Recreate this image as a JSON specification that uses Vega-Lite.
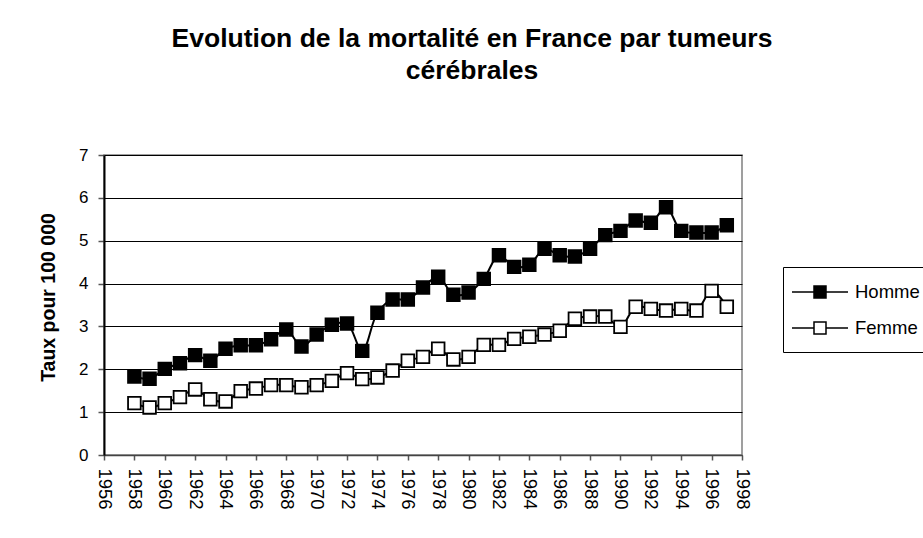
{
  "$schema": "https://vega.github.io/schema/vega-lite/v6.json",
  "description": "Evolution de la mortalité en France par tumeurs cérébrales",
  "autosize": {"type": "none"},
  "padding": {"left": 104, "top": 155, "right": 181, "bottom": 83},
  "width": 638,
  "height": 300,
  "background": "white",
  "title": {
    "text": ["Evolution de la mortalité en France par tumeurs", "cérébrales"],
    "font": "Liberation Sans",
    "fontSize": 26.5,
    "fontWeight": "bold",
    "color": "black",
    "lineHeight": 32,
    "anchor": "middle",
    "frame": "group",
    "dx": 49,
    "offset": 62
  },
  "config": {
    "font": "Liberation Sans",
    "view": {"stroke": "#808080", "strokeWidth": 1.5},
    "axis": {
      "labelFont": "Liberation Sans",
      "labelFontSize": 17,
      "labelColor": "black",
      "titleFont": "Liberation Sans",
      "titleColor": "black",
      "tickColor": "#555555",
      "domainColor": "black"
    }
  },
  "data": {
    "values": [
      {"annee": 1958, "sexe": "Homme", "taux": 1.83},
      {"annee": 1959, "sexe": "Homme", "taux": 1.78},
      {"annee": 1960, "sexe": "Homme", "taux": 2.01},
      {"annee": 1961, "sexe": "Homme", "taux": 2.14},
      {"annee": 1962, "sexe": "Homme", "taux": 2.33},
      {"annee": 1963, "sexe": "Homme", "taux": 2.20},
      {"annee": 1964, "sexe": "Homme", "taux": 2.48},
      {"annee": 1965, "sexe": "Homme", "taux": 2.56},
      {"annee": 1966, "sexe": "Homme", "taux": 2.56},
      {"annee": 1967, "sexe": "Homme", "taux": 2.70},
      {"annee": 1968, "sexe": "Homme", "taux": 2.93},
      {"annee": 1969, "sexe": "Homme", "taux": 2.53},
      {"annee": 1970, "sexe": "Homme", "taux": 2.81},
      {"annee": 1971, "sexe": "Homme", "taux": 3.04},
      {"annee": 1972, "sexe": "Homme", "taux": 3.07},
      {"annee": 1973, "sexe": "Homme", "taux": 2.43},
      {"annee": 1974, "sexe": "Homme", "taux": 3.32},
      {"annee": 1975, "sexe": "Homme", "taux": 3.63},
      {"annee": 1976, "sexe": "Homme", "taux": 3.63},
      {"annee": 1977, "sexe": "Homme", "taux": 3.91},
      {"annee": 1978, "sexe": "Homme", "taux": 4.16},
      {"annee": 1979, "sexe": "Homme", "taux": 3.74},
      {"annee": 1980, "sexe": "Homme", "taux": 3.79},
      {"annee": 1981, "sexe": "Homme", "taux": 4.11},
      {"annee": 1982, "sexe": "Homme", "taux": 4.66},
      {"annee": 1983, "sexe": "Homme", "taux": 4.39},
      {"annee": 1984, "sexe": "Homme", "taux": 4.44},
      {"annee": 1985, "sexe": "Homme", "taux": 4.81},
      {"annee": 1986, "sexe": "Homme", "taux": 4.66},
      {"annee": 1987, "sexe": "Homme", "taux": 4.63},
      {"annee": 1988, "sexe": "Homme", "taux": 4.81},
      {"annee": 1989, "sexe": "Homme", "taux": 5.13},
      {"annee": 1990, "sexe": "Homme", "taux": 5.23},
      {"annee": 1991, "sexe": "Homme", "taux": 5.47},
      {"annee": 1992, "sexe": "Homme", "taux": 5.42},
      {"annee": 1993, "sexe": "Homme", "taux": 5.78},
      {"annee": 1994, "sexe": "Homme", "taux": 5.23},
      {"annee": 1995, "sexe": "Homme", "taux": 5.19},
      {"annee": 1996, "sexe": "Homme", "taux": 5.19},
      {"annee": 1997, "sexe": "Homme", "taux": 5.36},
      {"annee": 1958, "sexe": "Femme", "taux": 1.21},
      {"annee": 1959, "sexe": "Femme", "taux": 1.11},
      {"annee": 1960, "sexe": "Femme", "taux": 1.21},
      {"annee": 1961, "sexe": "Femme", "taux": 1.35},
      {"annee": 1962, "sexe": "Femme", "taux": 1.53},
      {"annee": 1963, "sexe": "Femme", "taux": 1.30},
      {"annee": 1964, "sexe": "Femme", "taux": 1.25},
      {"annee": 1965, "sexe": "Femme", "taux": 1.49},
      {"annee": 1966, "sexe": "Femme", "taux": 1.55},
      {"annee": 1967, "sexe": "Femme", "taux": 1.63},
      {"annee": 1968, "sexe": "Femme", "taux": 1.63},
      {"annee": 1969, "sexe": "Femme", "taux": 1.58},
      {"annee": 1970, "sexe": "Femme", "taux": 1.63},
      {"annee": 1971, "sexe": "Femme", "taux": 1.73},
      {"annee": 1972, "sexe": "Femme", "taux": 1.91},
      {"annee": 1973, "sexe": "Femme", "taux": 1.77},
      {"annee": 1974, "sexe": "Femme", "taux": 1.81},
      {"annee": 1975, "sexe": "Femme", "taux": 1.97},
      {"annee": 1976, "sexe": "Femme", "taux": 2.20},
      {"annee": 1977, "sexe": "Femme", "taux": 2.29},
      {"annee": 1978, "sexe": "Femme", "taux": 2.48},
      {"annee": 1979, "sexe": "Femme", "taux": 2.23},
      {"annee": 1980, "sexe": "Femme", "taux": 2.29},
      {"annee": 1981, "sexe": "Femme", "taux": 2.57},
      {"annee": 1982, "sexe": "Femme", "taux": 2.57},
      {"annee": 1983, "sexe": "Femme", "taux": 2.71},
      {"annee": 1984, "sexe": "Femme", "taux": 2.76},
      {"annee": 1985, "sexe": "Femme", "taux": 2.81},
      {"annee": 1986, "sexe": "Femme", "taux": 2.90},
      {"annee": 1987, "sexe": "Femme", "taux": 3.18},
      {"annee": 1988, "sexe": "Femme", "taux": 3.23},
      {"annee": 1989, "sexe": "Femme", "taux": 3.23},
      {"annee": 1990, "sexe": "Femme", "taux": 2.99},
      {"annee": 1991, "sexe": "Femme", "taux": 3.46},
      {"annee": 1992, "sexe": "Femme", "taux": 3.41},
      {"annee": 1993, "sexe": "Femme", "taux": 3.37},
      {"annee": 1994, "sexe": "Femme", "taux": 3.41},
      {"annee": 1995, "sexe": "Femme", "taux": 3.37},
      {"annee": 1996, "sexe": "Femme", "taux": 3.83},
      {"annee": 1997, "sexe": "Femme", "taux": 3.46}
    ]
  },
  "encoding": {
    "x": {
      "field": "annee",
      "type": "quantitative",
      "scale": {"domain": [1956, 1998], "nice": false, "zero": false},
      "axis": {
        "title": null,
        "values": [1956, 1958, 1960, 1962, 1964, 1966, 1968, 1970, 1972, 1974, 1976, 1978, 1980, 1982, 1984, 1986, 1988, 1990, 1992, 1994, 1996, 1998],
        "format": "d",
        "labelAngle": 90,
        "labelAlign": "left",
        "labelBaseline": "middle",
        "labelFontSize": 18.5,
        "labelPadding": 8,
        "tickSize": 5,
        "tickWidth": 1.5,
        "domainWidth": 1.5,
        "domainColor": "#444444",
        "grid": false,
        "labelOverlap": false
      }
    },
    "y": {
      "field": "taux",
      "type": "quantitative",
      "scale": {"domain": [0, 7], "nice": false},
      "axis": {
        "title": "Taux pour 100 000",
        "titleFontSize": 19.5,
        "titleFontWeight": "bold",
        "titlePadding": 20,
        "titleY": 142,
        "values": [0, 1, 2, 3, 4, 5, 6, 7],
        "tickSize": 6,
        "tickWidth": 1.5,
        "labelPadding": 10,
        "domainWidth": 2,
        "grid": true,
        "gridColor": "black",
        "gridWidth": 1,
        "gridOpacity": 1
      }
    }
  },
  "layer": [
    {
      "mark": {"type": "line", "color": "black", "strokeWidth": 2, "interpolate": "catmull-rom"},
      "encoding": {"detail": {"field": "sexe", "type": "nominal"}}
    },
    {
      "mark": {"type": "point", "shape": "square", "size": 160, "filled": true, "stroke": "black", "strokeWidth": 1.8, "opacity": 1},
      "encoding": {
        "fill": {
          "field": "sexe",
          "type": "nominal",
          "scale": {"domain": ["Homme", "Femme"], "range": ["black", "white"]},
          "legend": {
            "title": null,
            "orient": "none",
            "legendX": 679,
            "legendY": 112,
            "direction": "vertical",
            "strokeColor": "black",
            "fillColor": "white",
            "padding": 14,
            "symbolType": "M-2.8,0H-0.6M0.6,0H2.8M-0.6,-0.6H0.6V0.6H-0.6Z",
            "symbolSize": 400,
            "symbolOffset": 12,
            "symbolStrokeColor": "black",
            "symbolStrokeWidth": 1.5,
            "rowPadding": 15,
            "labelOffset": 24,
            "labelFont": "Liberation Sans",
            "labelFontSize": 18.5,
            "labelColor": "black"
          }
        }
      }
    }
  ]
}
